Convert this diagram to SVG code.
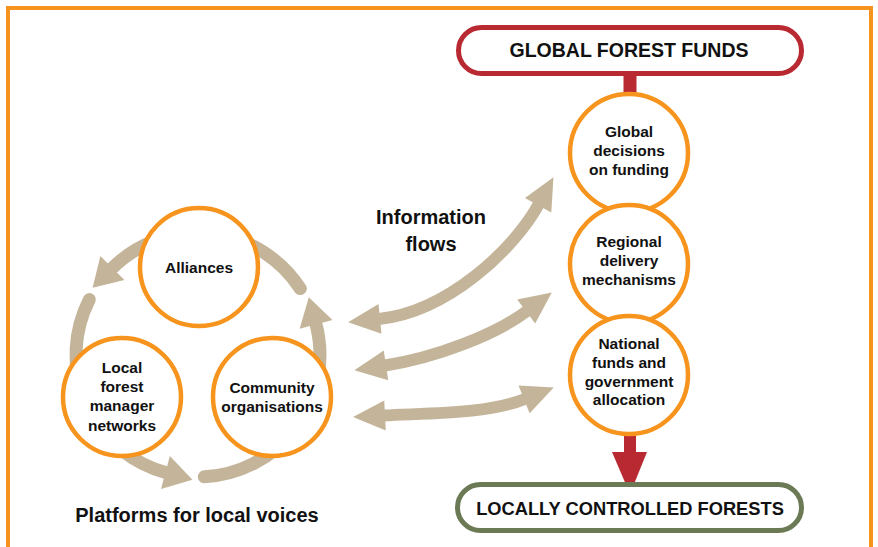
<svg xmlns="http://www.w3.org/2000/svg" width="878" height="547" viewBox="0 0 878 547">
<style>
.t{font-family:"Liberation Sans",Arial,sans-serif;font-weight:bold;fill:#111;text-anchor:middle}
.c{font-size:15.5px}
.node circle{fill:#fff;stroke:#F7941D;stroke-width:4.5}
.flow{fill:none;stroke:#C4B59A;stroke-width:12}
.cyc{fill:none;stroke:#C4B59A;stroke-width:13;stroke-linecap:round}
</style>
<defs>
<marker id="ah" markerUnits="userSpaceOnUse" markerWidth="44" markerHeight="40" viewBox="-4 -20 44 40" refX="0" refY="0" orient="auto-start-reverse">
<path d="M-1,-15 L31,0 L-1,15 z" fill="#C4B59A"/>
</marker>
<marker id="ch" markerUnits="userSpaceOnUse" markerWidth="44" markerHeight="44" viewBox="-4 -22 44 44" refX="0" refY="0" orient="auto">
<path d="M-1,-17 L27,0 L-1,17 z" fill="#C4B59A"/>
</marker>
</defs>
<rect x="8" y="8" width="863" height="570" fill="#fff" stroke="#F7941D" stroke-width="4"/>
<g id="connectors">
<path class="cyc" d="M300.3,288.6 A122,122 0 0 0 111.7,268.7" marker-end="url(#ch)"/>
<path class="cyc" d="M89.3,299.6 A122,122 0 0 0 166.4,472.8" marker-end="url(#ch)"/>
<path class="cyc" d="M204.4,476.8 A122,122 0 0 0 315.8,323.4" marker-end="url(#ch)"/>
<path class="flow" d="M379,319 C448,312 514.6,248.4 538.6,204.4" marker-start="url(#ah)" marker-end="url(#ah)"/>
<path class="flow" d="M385,365.5 C434.7,358 495,335 527,311" marker-start="url(#ah)" marker-end="url(#ah)"/>
<path class="flow" d="M384,415.5 C433,413 487.8,413.8 525,399" marker-start="url(#ah)" marker-end="url(#ah)"/>
<rect x="623.5" y="72" width="13" height="26" fill="#B82932"/>
<rect x="624" y="428" width="12" height="28" fill="#B82932"/>
<path d="M612,452 L647,452 L630,494 z" fill="#B82932"/>
</g>
<g id="global-forest-funds">
<rect x="458.5" y="27.5" width="343" height="46" rx="23" fill="#fff" stroke="#B82932" stroke-width="5"/>
<text class="t" x="629" y="57" font-size="19.5">GLOBAL FOREST FUNDS</text>
</g>
<g id="locally-controlled-forests">
<rect x="457.5" y="484.5" width="344" height="46" rx="23" fill="#fff" stroke="#6B7A55" stroke-width="5"/>
<text class="t" x="630" y="515" font-size="18.3">LOCALLY CONTROLLED FORESTS</text>
</g>
<g id="global-decisions" class="node">
<circle cx="629" cy="153" r="59"/>
<text class="t c" x="629" y="137">Global</text>
<text class="t c" x="629" y="156">decisions</text>
<text class="t c" x="629" y="175">on funding</text>
</g>
<g id="regional-delivery" class="node">
<circle cx="629" cy="264" r="59"/>
<text class="t c" x="629" y="247">Regional</text>
<text class="t c" x="629" y="266">delivery</text>
<text class="t c" x="629" y="285">mechanisms</text>
</g>
<g id="national-funds" class="node">
<circle cx="629" cy="375" r="59"/>
<text class="t c" x="629" y="349">National</text>
<text class="t c" x="629" y="368">funds and</text>
<text class="t c" x="629" y="387">government</text>
<text class="t c" x="629" y="405">allocation</text>
</g>
<g id="alliances" class="node">
<circle cx="199" cy="267" r="59"/>
<text class="t c" x="199" y="273">Alliances</text>
</g>
<g id="local-networks" class="node">
<circle cx="122" cy="397" r="59"/>
<text class="t c" x="122" y="373">Local</text>
<text class="t c" x="122" y="392">forest</text>
<text class="t c" x="122" y="411">manager</text>
<text class="t c" x="122" y="431">networks</text>
</g>
<g id="community-organisations" class="node">
<circle cx="272" cy="397" r="59"/>
<text class="t c" x="272" y="393">Community</text>
<text class="t c" x="272" y="412">organisations</text>
</g>
<g id="labels">
<text class="t" x="431" y="224" font-size="20">Information</text>
<text class="t" x="431" y="251" font-size="20">flows</text>
<text class="t" x="197" y="522" font-size="20">Platforms for local voices</text>
</g>
</svg>
